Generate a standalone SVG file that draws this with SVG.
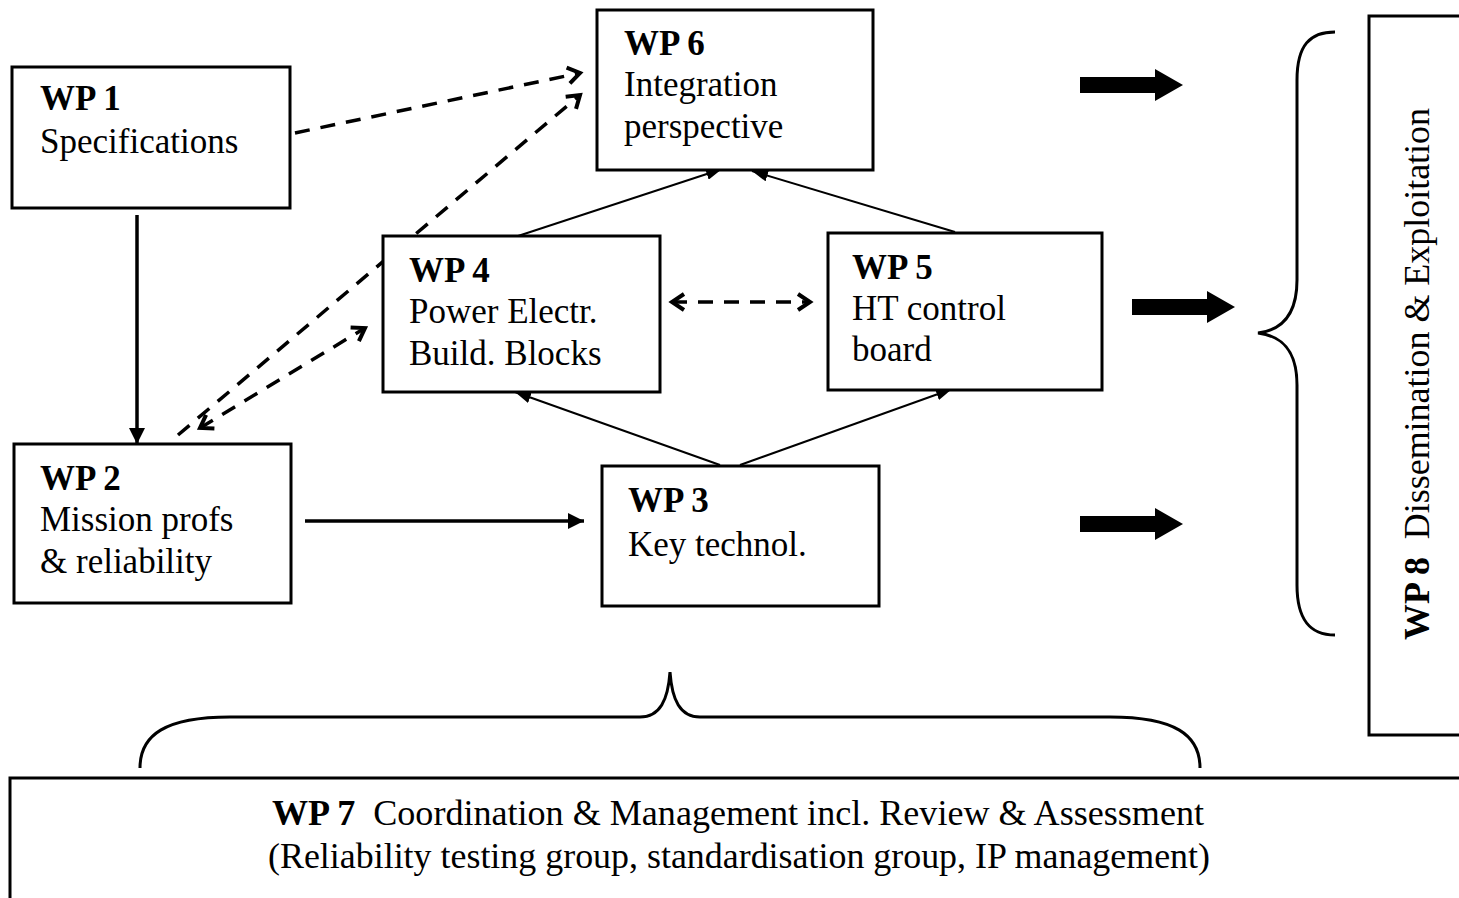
<svg xmlns="http://www.w3.org/2000/svg" width="1459" height="898" viewBox="0 0 1459 898">
<style>
.box{fill:#fff;stroke:#000;stroke-width:3}
.t{font-family:"Liberation Serif","Times New Roman",serif;font-size:35px;fill:#000}
.b{font-weight:bold}
.dash{fill:none;stroke:#000;stroke-width:3.5;stroke-dasharray:15 11}
.thin{fill:none;stroke:#000;stroke-width:2}
.solid{fill:none;stroke:#000;stroke-width:3.5}
.brace{fill:none;stroke:#000;stroke-width:3}
</style>
<defs>
<marker id="chev" viewBox="0 0 20 20" refX="16" refY="10" markerWidth="20" markerHeight="20" markerUnits="userSpaceOnUse" orient="auto-start-reverse">
<path d="M4,2 L16,10 L4,18" fill="none" stroke="#000" stroke-width="4"/>
</marker>
<marker id="tri" viewBox="0 0 16 12" refX="16" refY="6" markerWidth="16" markerHeight="12" markerUnits="userSpaceOnUse" orient="auto">
<path d="M0,0 L16,6 L0,12 Z" fill="#000"/>
</marker>
<marker id="tri2" viewBox="0 0 16 16" refX="16" refY="8" markerWidth="16" markerHeight="16" markerUnits="userSpaceOnUse" orient="auto">
<path d="M0,0 L16,8 L0,16 Z" fill="#000"/>
</marker>
</defs>

<g id="connectors">
<line class="dash" x1="295" y1="133" x2="580" y2="73" marker-end="url(#chev)"/>
<line class="dash" x1="178" y1="435" x2="580" y2="95" marker-end="url(#chev)"/>
<line class="dash" x1="200" y1="428" x2="365" y2="328" marker-start="url(#chev)" marker-end="url(#chev)"/>
<line class="dash" x1="672" y1="302" x2="810" y2="302" marker-start="url(#chev)" marker-end="url(#chev)"/>
<line class="thin" x1="518" y1="236" x2="722" y2="169" marker-end="url(#tri)"/>
<line class="thin" x1="955" y1="232" x2="752" y2="171" marker-end="url(#tri)"/>
<line class="thin" x1="720" y1="465" x2="515" y2="392" marker-end="url(#tri)"/>
<line class="thin" x1="740" y1="465" x2="952" y2="389" marker-end="url(#tri)"/>
<line class="solid" x1="137" y1="215" x2="137" y2="444" marker-end="url(#tri2)"/>
<line class="solid" x1="305" y1="521" x2="584" y2="521" marker-end="url(#tri2)"/>
<path d="M1080,77 H1155 V69 L1183,85 L1155,101 V93 H1080 Z" fill="#000"/>
<path d="M1132,299 H1207 V291 L1235,307 L1207,323 V315 H1132 Z" fill="#000"/>
<path d="M1080,516 H1155 V508 L1183,524 L1155,540 V532 H1080 Z" fill="#000"/>
<path class="brace" d="M1335,32 C1310,32 1297,45 1297,80 L1297,280 C1297,315 1282,330 1258,333 C1282,336 1297,350 1297,385 L1297,585 C1297,620 1310,635 1335,635"/>
<path class="brace" d="M140,768 C140,735 165,717 230,717 L640,717 C660,717 668,700 670,672 C672,700 680,717 700,717 L1110,717 C1175,717 1200,735 1200,768"/>
</g>

<g id="wp1">
<rect class="box" x="12" y="67" width="278" height="141"/>
<text class="t b" x="40" y="110">WP 1</text>
<text class="t" x="40" y="153">Specifications</text>
</g>
<g id="wp6">
<rect class="box" x="597" y="10" width="276" height="160"/>
<text class="t b" x="624" y="55">WP 6</text>
<text class="t" x="624" y="96">Integration</text>
<text class="t" x="624" y="138">perspective</text>
</g>
<g id="wp4">
<rect class="box" x="383" y="236" width="277" height="156"/>
<text class="t b" x="409" y="282">WP 4</text>
<text class="t" x="409" y="323">Power Electr.</text>
<text class="t" x="409" y="365">Build. Blocks</text>
</g>
<g id="wp5">
<rect class="box" x="828" y="233" width="274" height="157"/>
<text class="t b" x="852" y="279">WP 5</text>
<text class="t" x="852" y="320">HT control</text>
<text class="t" x="852" y="361">board</text>
</g>
<g id="wp2">
<rect class="box" x="14" y="444" width="277" height="159"/>
<text class="t b" x="40" y="490">WP 2</text>
<text class="t" x="40" y="531">Mission profs</text>
<text class="t" x="40" y="573">&amp; reliability</text>
</g>
<g id="wp3">
<rect class="box" x="602" y="466" width="277" height="140"/>
<text class="t b" x="628" y="512">WP 3</text>
<text class="t" x="628" y="556">Key technol.</text>
</g>
<g id="wp8">
<rect class="box" x="1369" y="16" width="95" height="719"/>
<text class="t" transform="translate(1429,640) rotate(-90)" x="0" y="0" textLength="532" lengthAdjust="spacingAndGlyphs"><tspan class="b">WP 8</tspan>&#160; Dissemination &amp; Exploitation</text>
</g>
<g id="wp7">
<rect class="box" x="10" y="778" width="1460" height="130"/>
<text class="t" x="272" y="825" textLength="932" lengthAdjust="spacingAndGlyphs"><tspan class="b">WP 7</tspan>&#160; Coordination &amp; Management incl. Review &amp; Assessment</text>
<text class="t" x="268" y="868" textLength="942" lengthAdjust="spacingAndGlyphs">(Reliability testing group, standardisation group, IP management)</text>
</g>
</svg>
